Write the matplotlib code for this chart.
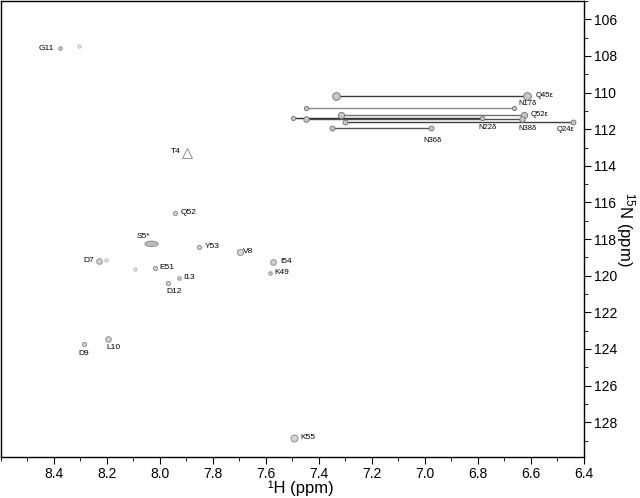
import matplotlib.pyplot as plt
from matplotlib.patches import Ellipse
from matplotlib.ticker import MultipleLocator

plt.rcParams['font.family'] = ['Liberation Sans', 'DejaVu Sans']
plt.rcParams['mathtext.fontset'] = 'custom'
plt.rcParams['mathtext.rm'] = 'Liberation Sans'
plt.rcParams['mathtext.default'] = 'regular'

# backbone amide peaks (1H ppm, 15N ppm)
bb_labels = ['G11', 'T4', 'Q52', 'Y53', 'V8', 'D7', 'E51', 'I13', 'D12',
             'I54', 'K49', 'D9', 'L10', 'K55']
bb_h = [8.378, 7.897, 7.942, 7.852, 7.698, 8.232, 8.017, 7.927, 7.968,
        7.574, 7.585, 8.288, 8.198, 7.495]
bb_n = [107.57, 113.30, 116.57, 118.43, 118.70, 119.19, 119.57, 120.12, 120.39,
        119.24, 119.85, 123.72, 123.45, 128.85]

# unlabelled weak peaks
extra_h = [8.307, 8.205, 8.096]
extra_n = [107.46, 119.14, 119.63]

# S5* broad peak
s5_h, s5_n = 8.032, 118.26

# side-chain NH2 pairs: (H left, H right, N)
sc_labels = ['Q45\u03b5', 'N17\u03b4', 'Q52\u03b5', 'N22\u03b4', 'N38\u03b4', 'Q24\u03b5', 'N36\u03b4']
sc_h1 = [7.337, 7.450, 7.318, 7.498, 7.450, 7.303, 7.352]
sc_h2 = [6.615, 6.664, 6.626, 6.784, 6.635, 6.442, 6.976]
sc_n = [110.18, 110.85, 111.20, 111.39, 111.42, 111.58, 111.93]

# label placement (offset points, ha)
bb_off = [(-4, 0, 'right'), (-5, 1, 'right'), (4, 0, 'left'), (4, 0, 'left'),
          (2, 0, 'left'), (-3, 0, 'right'), (3, 0, 'left'), (3, 0, 'left'),
          (4, -6, 'center'), (5, 0, 'left'), (3, 0, 'left'), (0, -7, 'center'),
          (4, -6, 'center'), (5, 0, 'left')]
bb_size = [2.5, 7, 3, 3, 4.5, 4, 3, 2.5, 3, 4, 2.5, 3, 4, 5]
sc_off = [(6, 0, 'left'), (3, 3, 'left'), (5, 0, 'left'), (4, -7, 'center'),
          (4, -7, 'center'), (-5, -6, 'center'), (1, -9, 'center')]
sc_color = ['#3a3a3a', '#8a8a8a', '#707070', '#2a2a2a', '#505050', '#404040', '#555555']
sc_size = [5.5, 3, 4.5, 3, 4, 3.5, 3.5]

fig = plt.figure(figsize=(6.4, 4.98), dpi=100)
ax = fig.add_axes([1 / 640, 41 / 498, 583 / 640, 456 / 498])

for i in range(len(sc_labels)):
    ax.plot([sc_h1[i], sc_h2[i]], [sc_n[i], sc_n[i]], color=sc_color[i], lw=1.0, zorder=2)
    ax.plot([sc_h1[i], sc_h2[i]], [sc_n[i], sc_n[i]], 'o', ms=sc_size[i],
            mfc='#c8c8c8', mec='#7a7a7a', mew=0.7, zorder=3)
    dx, dy, ha = sc_off[i]
    ax.annotate(sc_labels[i], (sc_h2[i], sc_n[i]), xytext=(dx, dy),
                textcoords='offset points', ha=ha, va='center', fontsize=5.5)

for i in range(len(bb_labels)):
    marker = '^' if bb_labels[i] == 'T4' else 'o'
    face = 'none' if bb_labels[i] == 'T4' else '#d4d4d4'
    ax.plot(bb_h[i], bb_n[i], marker, ms=bb_size[i], mfc=face, mec='#8f8f8f', mew=0.7, zorder=3)
    dx, dy, ha = bb_off[i]
    ax.annotate(bb_labels[i], (bb_h[i], bb_n[i]), xytext=(dx, dy),
                textcoords='offset points', ha=ha, va='center', fontsize=6)

ax.plot(extra_h, extra_n, 'o', ms=2.5, mfc='#e4e4e4', mec='#b0b0b0', mew=0.5, zorder=3)

ax.add_patch(Ellipse((s5_h, s5_n), 0.05, 0.3, facecolor='#bcbcbc',
                     edgecolor='#8f8f8f', lw=0.7, zorder=3))
ax.annotate('S5*', (s5_h, s5_n), xytext=(-1, 3), textcoords='offset points',
            ha='right', va='bottom', fontsize=6)

ax.set_xlim(8.6, 6.4)
ax.set_ylim(129.9, 105)
ax.set_xticks([8.4, 8.2, 8.0, 7.8, 7.6, 7.4, 7.2, 7.0, 6.8, 6.6, 6.4])
ax.xaxis.set_minor_locator(MultipleLocator(0.1))
ax.set_yticks(range(106, 130, 2))
ax.yaxis.set_minor_locator(MultipleLocator(1))
ax.yaxis.tick_right()
ax.yaxis.set_label_position('right')
ax.tick_params(which='major', direction='out', length=5, width=0.8, labelsize=10, pad=2)
ax.tick_params(which='minor', direction='out', length=3, width=0.6)
for s in ax.spines.values():
    s.set_linewidth(1.0)

ax.set_xlabel('\u00b9H (ppm)', fontsize=12, va='baseline')
ax.xaxis.set_label_coords(0.515, -0.08)
ax.set_ylabel('$^{15}$N (ppm)', fontsize=12, rotation=270, labelpad=14)

fig.savefig('out.png', dpi=100)
